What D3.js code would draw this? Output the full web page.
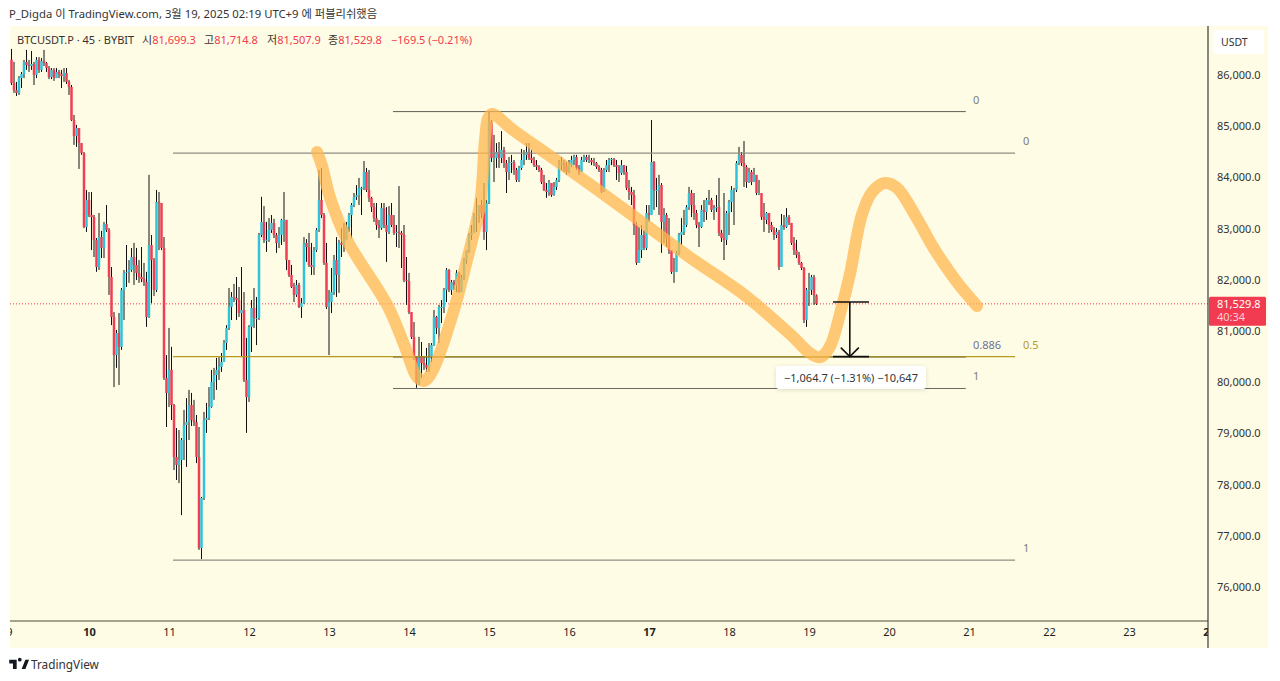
<!DOCTYPE html>
<html>
<head>
<meta charset="utf-8">
<script src="https://cdn.jsdelivr.net/npm/d3@7"></script>
<style>
  html, body { margin: 0; padding: 0; background: #fff; }
  svg { display: block; }
  text { font-family: "Noto Sans", "Noto Sans CJK KR", sans-serif; }
</style>
</head>
<body>
<svg id="chart" width="1280" height="681"></svg>
<script>
// 45 minute candles, first one is 9 Mar 00:45, one row = 8 candles
var closes = [
  // 9
  85845,85705,85650,85940,86020,86255,86195,86175,
  86215,86000,86295,86100,86275,86235,86135,85960,
  86100,85940,86060,86020,85980,86040,85865,85765,
  85120,84810,84965,84670,84475,83030,83560,
  // 10
  83265,83225,82780,82250,82835,82620,83090,82975,
  82055,81275,80530,80960,80690,81800,82135,82155,
  82190,82445,82290,82135,82055,82015,81955,81275,
  82680,82385,81800,83520,83500,82620,80085,79790,
  // 11
  80240,79555,78540,78385,78480,78870,79165,79220,
  79555,79260,79220,78540,76760,77740,79260,79300,
  79515,80005,80140,80240,80300,80395,80765,81060,
  81470,81665,81645,81605,81350,81410,80045,79710,
  // 12
  81080,81450,81255,81255,82875,83130,82780,82780,
  82975,83110,82875,82720,82875,83170,83170,82385,
  82095,81860,81705,81900,81470,81545,82720,82640,
  82290,82250,82580,82975,83560,83265,82330,81470,
  // 13
  81565,81760,82385,82095,82720,82680,82780,83030,
  83265,83460,83620,83655,83795,83795,84105,83755,
  83600,83420,83205,83070,83010,83400,83070,82935,
  83265,83070,82915,82935,82915,82875,81995,81975,
  // 14
  81370,80885,80490,79985,80490,80375,80335,80280,
  80490,80725,81275,81060,81470,81470,81800,82190,
  81800,81955,81900,82135,81760,82035,82385,82580,
  82875,82915,83265,83265,83460,83305,82935,83500,
  // 15
  85080,84380,84380,84495,84380,84535,84280,84105,
  84280,84300,84145,83950,84185,84340,84440,84495,
  84380,84340,84240,84205,84145,83910,83755,83715,
  83890,83655,83815,83950,84240,84280,84240,84105,
  // 16
  84240,84340,84400,84185,84105,84340,84400,84340,
  84340,84300,84280,84205,84145,83715,84145,84240,
  84340,84360,84240,84205,84085,84240,84105,83795,
  83715,83655,83070,82330,82580,82875,82620,83305,
  // 17
  83265,84300,83755,83755,83850,83130,83265,82815,
  82580,82155,82155,82525,82875,82935,83070,83420,
  83695,83460,83305,83070,83030,83365,83325,83560,
  83560,83365,83400,83420,82915,82815,82780,83305,
  // 18
  83520,83755,83755,84280,84440,84280,84205,83910,
  84105,83910,84050,83695,83695,83225,83170,83305,
  83070,82975,82875,82935,82250,83070,83030,83225,
  83110,82720,82580,82485,82330,82230,81215,81800,
  // 19
  81800,82055,81699,81529.8
];
var highs = [
  // 9
  86510,86255,85865,85980,86060,86295,86490,86295,
  86470,86255,86350,86350,86330,86490,86255,86175,
  86135,86135,86135,86100,86100,86135,86135,85900,
  85805,85220,85025,84965,84670,84495,83755,
  // 10
  83715,83715,83265,82815,83305,82955,83130,83460,
  83010,82250,81370,81020,81350,81840,82190,82680,
  82385,82620,82720,82620,82385,82640,82330,82155,
  84050,82875,82425,83755,83715,83400,82835,80530,
  // 11
  81060,80690,79575,79105,79065,78910,79460,79690,
  79850,79790,79655,79360,79125,77760,79420,79595,
  79905,80240,80280,80475,80490,80570,80825,81115,
  81840,81760,81920,82055,81860,82250,81760,80865,
  // 12
  81115,81605,81840,81665,82915,83620,83440,83130,
  83205,83265,83190,82915,83030,83190,83715,83170,
  82385,82290,81940,81995,81940,81645,82835,82795,
  82915,82720,82640,83010,84145,84185,83305,82720,
  // 13
  81800,82230,82485,82835,82780,83010,83110,83130,
  83305,83500,83695,83850,83990,83815,84320,84185,
  84145,83620,83500,83500,83170,83500,83500,83420,
  83440,83500,83265,83070,83830,82955,83070,82445,
  // 14
  82135,81370,81175,80490,80885,80785,80510,80670,
  80765,80765,81410,81295,81510,81605,81840,82230,
  82210,81995,81995,82190,82155,82095,82425,82580,
  82915,83070,83305,83600,83460,83560,83890,83560,
  // 15
  85280,85120,84830,84670,84690,84905,84595,84340,
  84400,84440,84340,84185,84225,84555,84535,84670,
  84670,84535,84400,84340,84240,84185,84050,83890,
  83950,83870,83910,83990,84340,84400,84340,84300,
  // 16
  84340,84420,84440,84440,84240,84400,84440,84440,
  84440,84380,84380,84300,84240,84185,84185,84340,
  84380,84380,84380,84340,84240,84340,84240,84225,
  83950,83815,83755,83130,83030,83070,82975,83460,
  // 17
  83460,85120,84320,83990,84050,83890,83400,83305,
  83205,82580,82425,82565,82915,83205,83365,83460,
  83815,83755,83695,83365,83130,83460,83560,83600,
  83755,83600,83460,83655,83990,82975,83695,83345,
  // 18
  83560,83830,83795,84320,84595,84495,84710,84240,
  84185,84145,84185,84010,83950,83695,83500,83325,
  83305,83130,83030,83010,82975,83285,83265,83400,
  83265,83110,82835,82780,82545,82350,82250,81840,
  // 19
  82135,82095,82095,81714.8
];
var lows = [
  // 9
  85805,85650,85590,85610,85745,85940,86100,86060,
  86100,85805,85940,86040,86060,86175,86060,85920,
  85920,85885,85940,85940,85745,85865,85825,85610,
  85100,84635,84595,84165,84440,83010,82935,
  // 10
  83225,82580,82445,82155,82190,82425,82425,82935,
  81705,81115,79905,80280,79945,80630,81215,81860,
  81940,82155,81900,81995,81940,81955,81880,81080,
  81255,81545,81685,81760,82580,82580,80045,79125,
  // 11
  79515,79260,78285,78090,78030,77405,78480,78345,
  78870,79145,79145,78420,76725,76545,77700,79010,
  79260,79500,79655,79850,80045,80200,80630,80630,
  81020,81215,81565,81215,81275,80490,80005,79010,
  // 12
  79615,80590,81060,80725,81215,82835,82720,82545,
  82740,82915,82815,82525,82620,82680,82740,82190,
  82055,81840,81565,81665,81450,81255,81530,82350,
  82250,82095,82095,82545,82935,83205,82290,81430,
  // 13
  80530,81350,81705,81665,81745,82445,82545,82835,
  82935,82815,83420,83560,83460,83265,83755,83715,
  83520,83325,83130,82975,82815,82975,83010,82350,
  82895,83030,82875,82640,82620,82230,81955,81510,
  // 14
  81330,80845,80435,79890,79945,80085,80240,80200,
  80200,80395,80710,80940,80765,81155,81350,81565,
  81760,81705,81800,81760,81745,81760,81995,82310,
  82525,82780,82915,82935,83110,83205,82780,82580,
  // 15
  83480,84300,83910,84185,84185,84280,84185,83695,
  83950,84085,84050,83910,83910,84145,84240,84340,
  84340,84280,84205,84145,84105,83870,83735,83600,
  83640,83620,83640,83755,83910,84145,84105,84050,
  // 16
  84085,84205,84240,84145,84050,84105,84300,84300,
  84280,84240,84225,84165,84105,83695,83715,84105,
  84105,84240,84205,83950,83910,84050,84050,83755,
  83560,83460,82875,82290,82330,82425,82580,82580,
  // 17
  83130,83265,83365,83420,83265,82525,82720,82640,
  82505,82115,81940,82155,82485,82680,82875,83030,
  83365,83225,83170,83010,82640,83010,83130,83170,
  83460,83325,83170,83325,82855,82740,82385,82680,
  // 18
  82875,83325,83070,83715,84240,84225,83815,83795,
  83890,83850,83910,83655,83655,83170,82935,83090,
  82915,82935,82780,82815,82190,82250,82975,83010,
  83070,82680,82485,82425,82290,82190,81155,81080,
  // 19
  81490,81705,81510,81507.9
];
var firstOpen = 86300;

var dayTicks = [9, 10, 11, 12, 13, 14, 15, 16, 17, 18, 19, 20, 21, 22, 23, 24];
var dayLabels = ["9", "10", "11", "12", "13", "14", "15", "16", "17", "18", "19", "20", "21", "22", "23", "24"];
var boldDays = [10, 17, 24];
var priceTicks = [86000, 85000, 84000, 83000, 82000, 81000, 80000, 79000, 78000, 77000, 76000];
var lastPrice = 81529.8;

// fib retracements, price levels and span in days
var fibSmall = [
  { label: "0", price: 85285 },
  { label: "0.886", price: 80490 },
  { label: "1", price: 79877 }
];
var fibSmallSpan = [13.8, 20.96];
var fibBig = [
  { label: "0", price: 84475 },
  { label: "0.5", price: 80500 },
  { label: "1", price: 76525 }
];
var fibBigSpan = [11.05, 21.575];

// hand drawn brush stroke, [day, price]
var brushPoints = [
  [12.85,84495],[12.91,84240],[13.01,83620],[13.225,82780],[13.74,81470],[13.95,80690],
  [14.1,80100],[14.19,80025],[14.3,80240],[14.55,81350],[14.725,82385],[14.89,83500],
  [14.95,84730],[14.99,85160],[15.04,85240],[15.3,84925],[15.89,84280],[16.825,83225],
  [17.51,82440],[18.225,81665],[18.8,80885],[19.01,80570],[19.14,80490],[19.26,80690],
  [19.39,81350],[19.51,82095],[19.66,83265],[19.79,83715],[19.95,83890],[20.1,83795],
  [20.325,83265],[20.575,82580],[20.85,81955],[21.1,81490]
];

var rangeTop = 81565;
var rangeBottom = 80500;
var rangeDay = 19.51;
var rangeCaps = [19.3, 19.75];

var svg = d3.select("#chart");

var panel = { left: 10, right: 1208, top: 26, bottom: 621, outerRight: 1268, outerBottom: 648 };

var x = d3.scaleLinear().domain([10, 24]).range([89, 1209]);
var y = d3.scaleLinear().domain([86000, 76000]).range([75, 587]);

var upColor = "#2FC3DB";
var downColor = "#EF3E55";
var redText = "#F0394E";

svg.append("rect")
  .attr("x", panel.left).attr("y", panel.top)
  .attr("width", panel.outerRight - panel.left)
  .attr("height", panel.outerBottom - panel.top)
  .attr("fill", "#FFFCE5");

svg.append("clipPath").attr("id", "plot")
  .append("rect")
  .attr("x", panel.left).attr("y", panel.top)
  .attr("width", panel.right - panel.left)
  .attr("height", panel.bottom - panel.top);

svg.append("clipPath").attr("id", "timeclip")
  .append("rect")
  .attr("x", panel.left).attr("y", panel.bottom)
  .attr("width", panel.right - panel.left)
  .attr("height", panel.outerBottom - panel.bottom);

var plot = svg.append("g").attr("clip-path", "url(#plot)");

// last price line
plot.append("line")
  .attr("x1", panel.left).attr("x2", panel.right)
  .attr("y1", y(lastPrice)).attr("y2", y(lastPrice))
  .attr("stroke", "#F23645").attr("stroke-width", 1)
  .attr("stroke-dasharray", "1 2");

// candles
var candles = closes.map(function(c, i) {
  return {
    day: 19 + (i - 319) / 32,
    open: i ? closes[i - 1] : firstOpen,
    close: c,
    high: highs[i],
    low: lows[i]
  };
});

var candle = plot.append("g").selectAll("g")
  .data(candles).enter().append("g");

candle.append("line")
  .attr("x1", function(d) { return x(d.day); })
  .attr("x2", function(d) { return x(d.day); })
  .attr("y1", function(d) { return y(d.high); })
  .attr("y2", function(d) { return y(d.low); })
  .attr("stroke", "#111").attr("stroke-width", 1);

candle.append("rect")
  .attr("x", function(d) { return x(d.day) - 1.25; })
  .attr("width", 2.5)
  .attr("y", function(d) { return y(Math.max(d.open, d.close)); })
  .attr("height", function(d) { return Math.max(1, Math.abs(y(d.open) - y(d.close))); })
  .attr("fill", function(d) { return d.close >= d.open ? upColor : downColor; });

// fib levels
function fibLines(levels, span, colors, widths, labelX, labelDy, labelColors) {
  plot.selectAll(null).data(levels).enter().append("line")
    .attr("x1", x(span[0])).attr("x2", x(span[1]))
    .attr("y1", function(d) { return y(d.price); })
    .attr("y2", function(d) { return y(d.price); })
    .attr("stroke", function(d, i) { return colors[i]; })
    .attr("stroke-width", function(d, i) { return widths[i]; });

  svg.selectAll(null).data(levels).enter().append("text")
    .attr("x", labelX)
    .attr("y", function(d) { return y(d.price) - labelDy; })
    .attr("font-size", 11)
    .attr("fill", function(d, i) { return labelColors[i]; })
    .text(function(d) { return d.label; });
}

fibLines(fibBig, fibBigSpan, ["#8E8E82", "#B59A1E", "#73736A"], [1.2, 1.2, 1],
  1023, 8, ["#7C7C7C", "#B49A2A", "#7C7C7C"]);
fibLines(fibSmall, fibSmallSpan, ["#5E5E58", "#7E7840", "#6A6A62"], [1, 1, 1],
  973, 8, ["#7C7C7C", "#6E7196", "#7C7C7C"]);

// brush stroke over the candles
var brushLine = d3.line()
  .x(function(d) { return x(d[0]); })
  .y(function(d) { return y(d[1]); })
  .curve(d3.curveCatmullRom.alpha(0.5));

plot.append("path")
  .datum(brushPoints)
  .attr("d", brushLine)
  .attr("fill", "none")
  .attr("stroke", "#FFB74D")
  .attr("stroke-opacity", 0.75)
  .attr("stroke-width", 12)
  .attr("stroke-linecap", "round")
  .attr("stroke-linejoin", "round");

// price range tool
var range = plot.append("g").attr("stroke", "#111").attr("fill", "none");
range.append("line")
  .attr("x1", x(rangeCaps[0])).attr("x2", x(rangeCaps[1]))
  .attr("y1", y(rangeTop)).attr("y2", y(rangeTop))
  .attr("stroke-width", 1.6);
range.append("line")
  .attr("x1", x(rangeCaps[0])).attr("x2", x(rangeCaps[1]))
  .attr("y1", y(rangeBottom)).attr("y2", y(rangeBottom))
  .attr("stroke-width", 1.6);
range.append("line")
  .attr("x1", x(rangeDay)).attr("x2", x(rangeDay))
  .attr("y1", y(rangeTop)).attr("y2", y(rangeBottom))
  .attr("stroke-width", 1.6);
range.append("path")
  .attr("d", "M" + (x(rangeDay) - 9) + "," + (y(rangeBottom) - 9)
    + "L" + x(rangeDay) + "," + y(rangeBottom)
    + "L" + (x(rangeDay) + 9) + "," + (y(rangeBottom) - 9))
  .attr("stroke-width", 1.6);

var tip = svg.append("g").attr("transform", "translate(776,366)");
tip.append("rect")
  .attr("width", 150).attr("height", 23).attr("rx", 3)
  .attr("fill", "#fff")
  .style("filter", "drop-shadow(0 1px 2px rgba(0,0,0,0.12))");
tip.append("text")
  .attr("x", 75).attr("y", 15.5)
  .attr("text-anchor", "middle")
  .attr("font-size", 11)
  .attr("fill", "#333")
  .text("\u22121,064.7 (\u22121.31%) \u221210,647");

// axes
var timeAxis = d3.axisBottom(x)
  .tickValues(dayTicks)
  .tickSize(0)
  .tickPadding(7)
  .tickFormat(function(d, i) { return dayLabels[i]; });

var timeG = svg.append("g")
  .attr("clip-path", "url(#timeclip)")
  .append("g")
  .attr("transform", "translate(0," + panel.bottom + ")")
  .call(timeAxis);
timeG.select(".domain").remove();
timeG.selectAll("text")
  .attr("font-size", 11)
  .attr("fill", "#222")
  .attr("font-weight", function(d) { return boldDays.indexOf(d) >= 0 ? 700 : 400; })
  .style("font-family", '"Noto Sans", sans-serif');

var priceAxis = d3.axisRight(y)
  .tickValues(priceTicks)
  .tickSize(0)
  .tickPadding(9)
  .tickFormat(d3.format(",.1f"));

var priceG = svg.append("g")
  .attr("transform", "translate(" + panel.right + ",0)")
  .call(priceAxis);
priceG.select(".domain").remove();
priceG.selectAll("text")
  .attr("font-size", 11)
  .attr("fill", "#333")
  .style("font-family", '"Noto Sans", sans-serif');

svg.append("line")
  .attr("x1", panel.left).attr("x2", panel.right)
  .attr("y1", panel.bottom).attr("y2", panel.bottom)
  .attr("stroke", "#86866E").attr("stroke-width", 1.5);
svg.append("line")
  .attr("x1", panel.right).attr("x2", panel.right)
  .attr("y1", panel.top).attr("y2", panel.outerBottom)
  .attr("stroke", "#3A3A34").attr("stroke-width", 1.2);

// currency box
svg.append("rect")
  .attr("x", 1213).attr("y", 30).attr("width", 51).attr("height", 24).attr("rx", 3)
  .attr("fill", "#fff");
svg.append("text")
  .attr("x", 1221).attr("y", 45.5)
  .attr("font-size", 10.5).attr("fill", "#333")
  .text("USDT");

// last price tag
svg.append("rect")
  .attr("x", 1209).attr("y", y(lastPrice) - 7)
  .attr("width", 57).attr("height", 29).attr("rx", 1.5)
  .attr("fill", "#F23A50");
svg.append("text")
  .attr("x", 1217).attr("y", y(lastPrice) + 4)
  .attr("font-size", 11).attr("fill", "#fff")
  .text(d3.format(",.1f")(lastPrice));
svg.append("text")
  .attr("x", 1217).attr("y", y(lastPrice) + 17)
  .attr("font-size", 11).attr("fill", "#fff").attr("fill-opacity", 0.75)
  .text("40:34");

// titles
svg.append("text")
  .attr("x", 9).attr("y", 18)
  .attr("font-size", 11.3).attr("fill", "#333")
  .text("P_Digda \uC774 TradingView.com, 3\uC6D4 19, 2025 02:19 UTC+9 \uC5D0 \uD37C\uBE14\uB9AC\uC26C\uD588\uC74C");

var legend = svg.append("text")
  .attr("x", 17).attr("y", 44)
  .attr("font-size", 11).attr("fill", "#333");
legend.append("tspan").text("BTCUSDT.P \u00B7 45 \u00B7 BYBIT");
[["\uC2DC", "81,699.3", 142], ["\uACE0", "81,714.8", 204], ["\uC800", "81,507.9", 267], ["\uC885", "81,529.8", 328]]
  .forEach(function(o) {
    legend.append("tspan").attr("x", o[2]).text(o[0]);
    legend.append("tspan").attr("fill", redText).text(o[1]);
  });
legend.append("tspan").attr("x", 391).attr("fill", redText).text("\u2212169.5 (\u22120.21%)");

// logo
svg.append("path")
  .attr("transform", "translate(8,656) scale(0.62)")
  .attr("d", "M14 6H2v6h6v9h6V6zm14 15h-6l6-15h6l-6 15zm-6-15a3 3 0 1 1-6 0 3 3 0 0 1 6 0z")
  .attr("fill", "#131722");
svg.append("text")
  .attr("x", 31).attr("y", 669)
  .attr("font-size", 11.8).attr("fill", "#333")
  .text("TradingView");
</script>
</body>
</html>
